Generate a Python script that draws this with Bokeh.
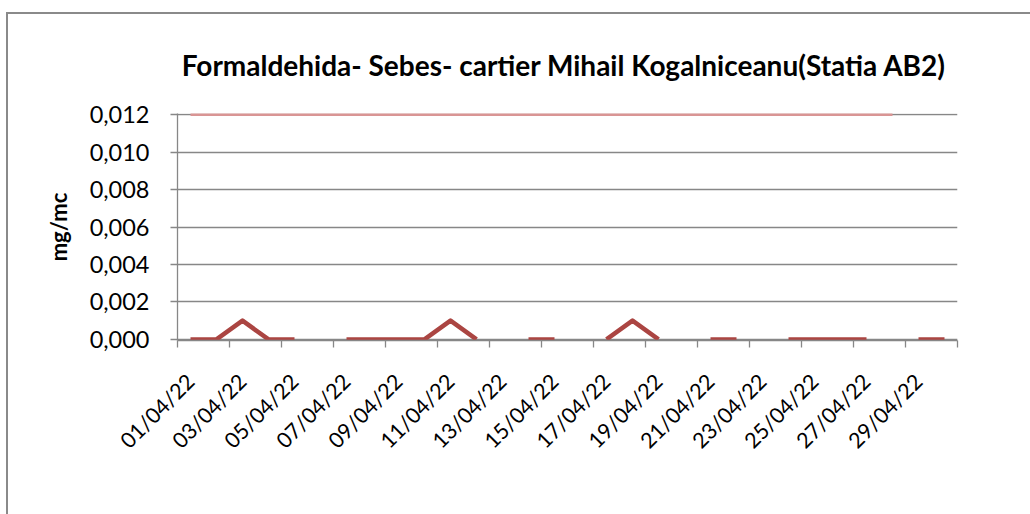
from bokeh.plotting import figure
from bokeh.models import FixedTicker, Range1d, Legend, LegendItem
from bokeh.embed import file_html
from bokeh.resources import INLINE
import numpy as np

nan = float("nan")

days = list(range(1, 31))
conc = [0, 0, 0.001, 0, 0, nan, 0, 0, 0, 0, 0.001, 0, nan, 0, 0, nan,
        0, 0.001, 0, nan, 0, 0, nan, 0, 0, 0, 0, nan, 0, 0]
limit_days = list(range(1, 29))
limit_vals = [0.012] * 28

x_label_days = list(range(1, 31, 2))
x_labels = ["%02d/04/22" % d for d in x_label_days]
y_ticks = [0.0, 0.002, 0.004, 0.006, 0.008, 0.010, 0.012]
y_labels = ["0,000", "0,002", "0,004", "0,006", "0,008", "0,010", "0,012"]

title_text = "Formaldehida- Sebes-  cartier Mihail Kogalniceanu(Statia AB2)"
series_name = "Conc.de formaldehida (mg/mc)"

FONT = "Lato"
GRID = "#878787"

p = figure(frame_width=780, frame_height=227, output_backend="svg",
           toolbar_location=None,
           x_range=Range1d(0.5, 30.5), y_range=Range1d(-0.00006, 0.01206),
           min_border_left=169, min_border_right=76, min_border_top=99,
           min_border_bottom=0)
p.styles = {"margin-left": "6px", "margin-top": "12px",
            "border-left": "2px solid #8a8a8a", "border-top": "2px solid #8a8a8a"}
p.outline_line_color = None

p.title.text = title_text
p.title.text_font = FONT
p.title.text_font_size = "28px"
p.title.text_font_style = "bold"
p.title.text_color = "black"
p.title.align = "center"
p.title.standoff = 63

# grid
p.xgrid.grid_line_color = None
p.ygrid.grid_line_color = GRID
p.ygrid.grid_line_width = 1.3

# y axis
p.yaxis.ticker = FixedTicker(ticks=y_ticks, minor_ticks=[])
p.yaxis.major_label_overrides = {v: s for v, s in zip(y_ticks, y_labels)}
p.yaxis.axis_label = "mg/mc"
p.yaxis.axis_label_text_font = FONT
p.yaxis.axis_label_text_font_size = "22px"
p.yaxis.axis_label_text_font_style = "bold"
p.yaxis.axis_label_text_color = "black"
p.yaxis.axis_label_standoff = 15
p.yaxis.major_label_text_font = FONT
p.yaxis.major_label_text_font_size = "23.5px"
p.yaxis.major_label_text_color = "black"
p.yaxis.major_label_standoff = 21
p.yaxis.major_tick_out = 7
p.yaxis.major_tick_in = 0
p.yaxis.major_tick_line_color = GRID
p.yaxis.axis_line_color = GRID
p.yaxis.axis_line_width = 1.3
p.yaxis.major_tick_line_width = 1.3

# x axis
minor = [0.5 + 2 * i for i in range(16)]
p.xaxis.ticker = FixedTicker(ticks=x_label_days, minor_ticks=minor)
p.xaxis.major_label_overrides = {d: s for d, s in zip(x_label_days, x_labels)}
p.xaxis.major_label_orientation = np.pi / 4
p.xaxis.major_label_text_font = FONT
p.xaxis.major_label_text_font_size = "21.5px"
p.xaxis.major_label_text_color = "black"
p.xaxis.major_label_standoff = 30
p.xaxis.major_tick_out = 0
p.xaxis.major_tick_in = 0
p.xaxis.minor_tick_out = 7
p.xaxis.minor_tick_in = 0
p.xaxis.minor_tick_line_color = GRID
p.xaxis.minor_tick_line_width = 1.3
p.xaxis.axis_line_color = GRID
p.xaxis.axis_line_width = 1.3

p.line(limit_days, limit_vals, line_color="#D99594", line_width=3)
r = p.line(days, conc, line_color="#AB4542", line_width=4.5, line_join="round")

legend = Legend(items=[LegendItem(label=series_name, renderers=[r])],
                location=(161, 14), orientation="horizontal",
                border_line_color=None, background_fill_alpha=0,
                padding=0, margin=14, glyph_width=56, label_standoff=4,
                label_text_font=FONT, label_text_font_size="22px",
                label_text_color="black")
p.add_layout(legend, "below")

open("out.html", "w").write(file_html(p, INLINE))
